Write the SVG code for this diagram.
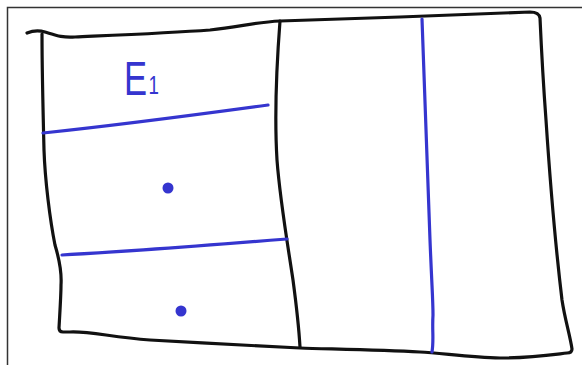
<svg xmlns="http://www.w3.org/2000/svg" width="582" height="365" viewBox="0 0 582 365">
<style>
.ink{fill:none;stroke:#111;stroke-width:3.2;stroke-linecap:round;stroke-linejoin:round}
.blue{fill:none;stroke:#3535cf;stroke-width:3.2;stroke-linecap:round;stroke-linejoin:round}
.dot{fill:#3535cf}
.frame{fill:none;stroke:#333;stroke-width:1.5}
.lbl{font-family:"Liberation Sans",Arial,sans-serif;fill:#3535cf}
</style>
<rect width="582" height="365" fill="#fff"/>
<path class="frame" d="M7.5,365 L7.5,7.5 L582,7.5"/>
<g id="outline">
<path class="ink" d="M27,33 C32,31 38,30 45,32 C55,35 62,38 75,37 C120,35 170,33 210,30 C240,27 255,22 280,21 L400,17 L530,12 Q539,12 540,18 C541,40 543,80 546,120 C550,180 556,250 562,300 C565,320 570,335 572,349 Q572,353 567,353 C550,355 530,358 500,358 C470,357 440,353 420,352 C380,350 330,349 300,348 C260,346 200,343 150,340 C110,337 90,331 70,332 L63,332 Q59,332 59,328 C60,310 61,295 61,285 C62,270 58,255 55,245 C50,220 45,180 44,150 C43,110 42,70 42,34"/>
<path class="ink" d="M280,21 C277,60 274,110 277,160 C280,200 287,240 293,280 C297,310 299,330 300,347"/>
</g>
<g id="blue-lines">
<path class="blue" d="M422,19 C424,80 427,160 430,240 C432,290 433,300 433,315 C432,330 434,340 432,352"/>
<path class="blue" d="M43,133 C100,127 180,117 268,105"/>
<path class="blue" d="M62,255 C120,252 200,246 287,239"/>
</g>
<g id="dots">
<circle class="dot" cx="168" cy="188" r="5.5"/>
<circle class="dot" cx="181" cy="311" r="5.5"/>
</g>
<g id="label-E1">
<text class="lbl" transform="translate(124,95) scale(0.72,1)" font-size="48">E<tspan font-size="26" dx="2" dy="-1">1</tspan></text>
</g>
</svg>
